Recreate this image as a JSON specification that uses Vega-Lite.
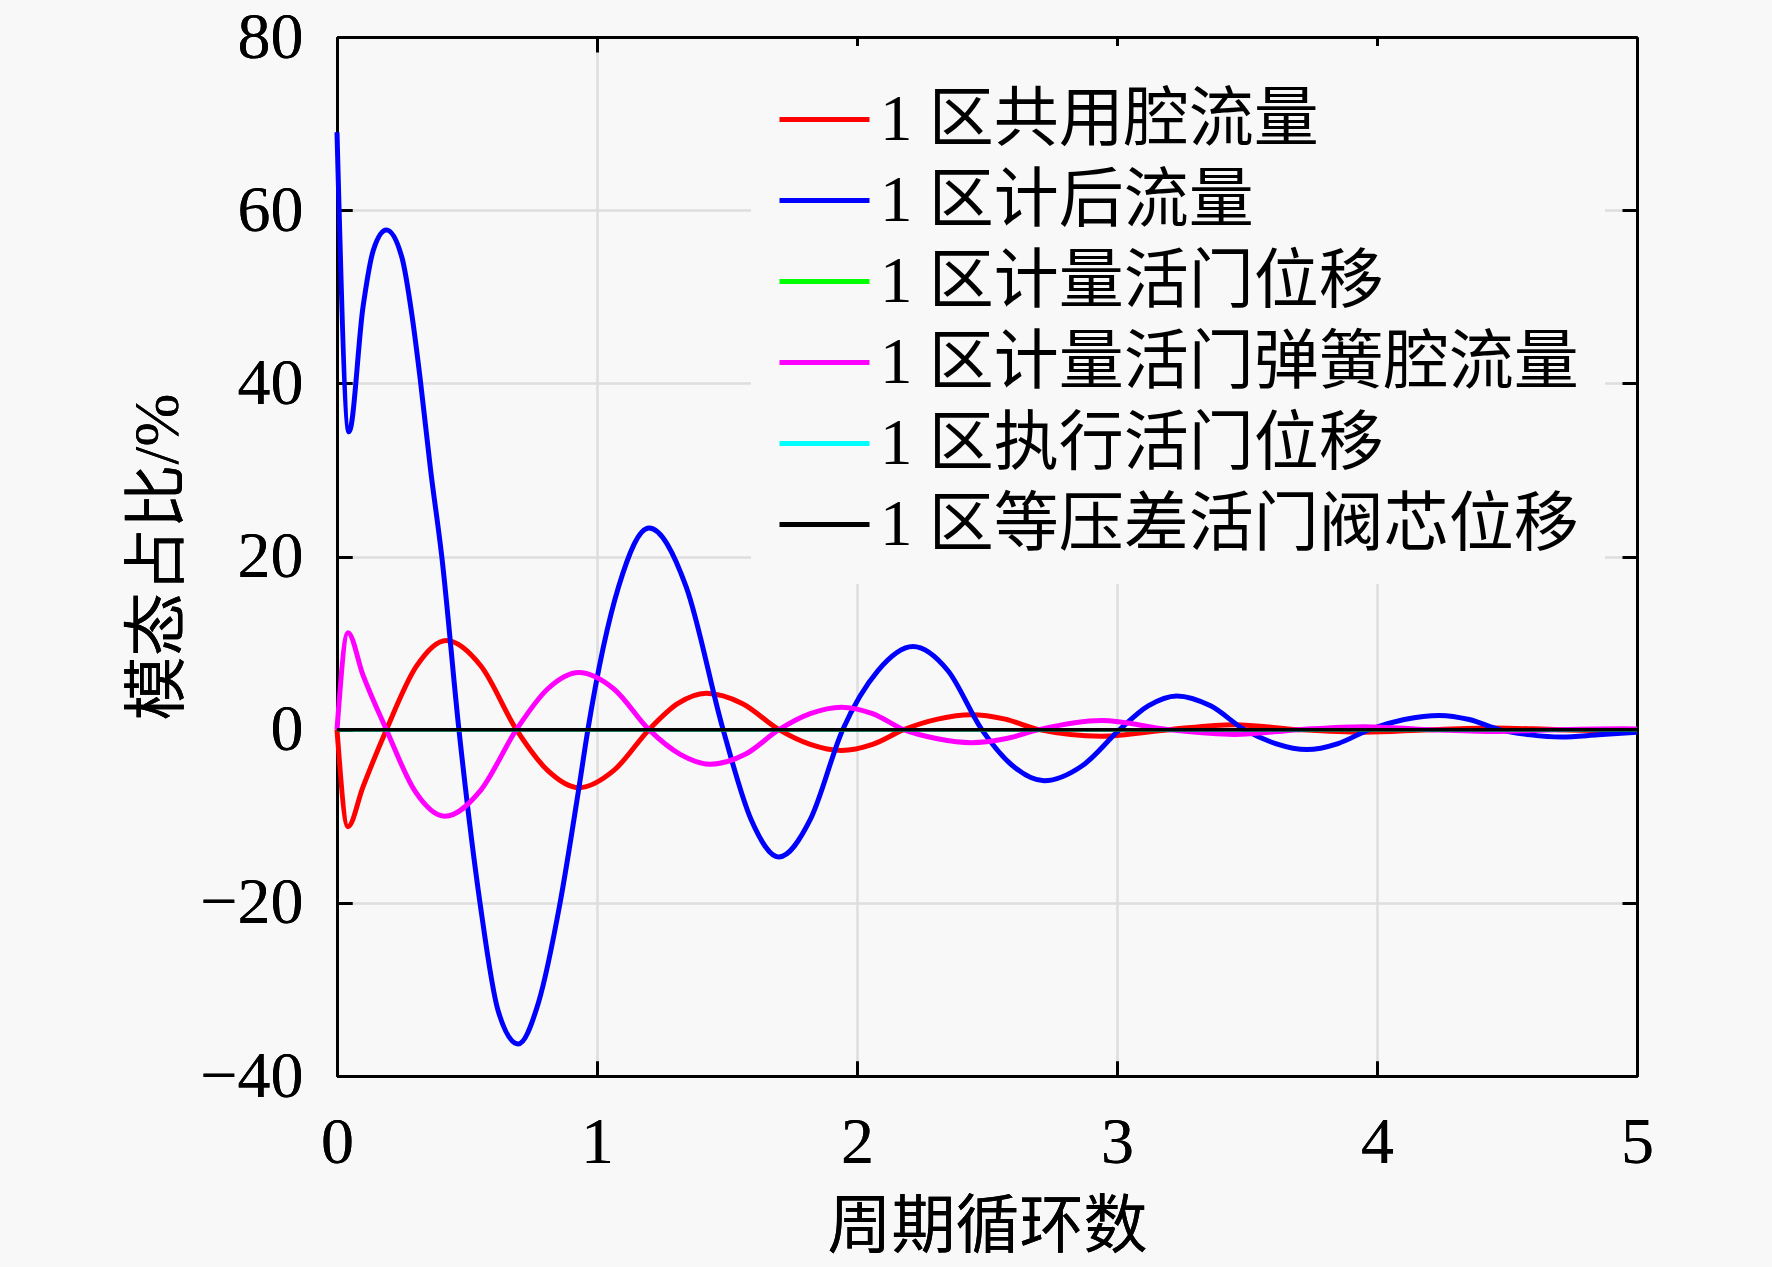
{
  "$schema": "https://vega.github.io/schema/vega-lite/v6.json",
  "width": 1300,
  "height": 1039,
  "autosize": {"type": "none"},
  "padding": {"left": 337, "top": 37, "right": 135, "bottom": 191},
  "background": "#f8f8f8",
  "config": {
    "view": {"stroke": null},
    "axis": {
      "domainColor": "#000000",
      "domainWidth": 3,
      "tickColor": "#000000",
      "tickWidth": 3,
      "tickSize": -15,
      "labelFont": "Liberation Serif",
      "labelFontSize": 66,
      "labelColor": "#000000",
      "labelFlush": false,
      "labelOverlap": false,
      "titleFont": "Liberation Serif, Noto Sans CJK SC",
      "titleFontSize": 64,
      "titleFontWeight": "normal",
      "titleColor": "#000000",
      "gridColor": "#dedede",
      "gridWidth": 2
    }
  },
  "data": {
    "values": [
      {"s": "1 区共用腔流量", "t": 0, "v": 0},
      {"s": "1 区共用腔流量", "t": 0.042, "v": -11.2},
      {"s": "1 区共用腔流量", "t": 0.1, "v": -6.6},
      {"s": "1 区共用腔流量", "t": 0.19, "v": 0},
      {"s": "1 区共用腔流量", "t": 0.305, "v": 7.3},
      {"s": "1 区共用腔流量", "t": 0.42, "v": 10.3},
      {"s": "1 区共用腔流量", "t": 0.555, "v": 7.3},
      {"s": "1 区共用腔流量", "t": 0.69, "v": 0},
      {"s": "1 区共用腔流量", "t": 0.81, "v": -4.7},
      {"s": "1 区共用腔流量", "t": 0.93, "v": -6.7},
      {"s": "1 区共用腔流量", "t": 1.065, "v": -4.7},
      {"s": "1 区共用腔流量", "t": 1.2, "v": 0},
      {"s": "1 区共用腔流量", "t": 1.31, "v": 3.0},
      {"s": "1 区共用腔流量", "t": 1.42, "v": 4.2},
      {"s": "1 区共用腔流量", "t": 1.56, "v": 3.0},
      {"s": "1 区共用腔流量", "t": 1.7, "v": 0},
      {"s": "1 区共用腔流量", "t": 1.82, "v": -1.7},
      {"s": "1 区共用腔流量", "t": 1.94, "v": -2.4},
      {"s": "1 区共用腔流量", "t": 2.06, "v": -1.7},
      {"s": "1 区共用腔流量", "t": 2.18, "v": 0},
      {"s": "1 区共用腔流量", "t": 2.31, "v": 1.22},
      {"s": "1 区共用腔流量", "t": 2.44, "v": 1.73},
      {"s": "1 区共用腔流量", "t": 2.57, "v": 1.22},
      {"s": "1 区共用腔流量", "t": 2.7, "v": 0},
      {"s": "1 区共用腔流量", "t": 2.94, "v": -0.75},
      {"s": "1 区共用腔流量", "t": 3.2, "v": 0},
      {"s": "1 区共用腔流量", "t": 3.45, "v": 0.58},
      {"s": "1 区共用腔流量", "t": 3.7, "v": 0},
      {"s": "1 区共用腔流量", "t": 3.95, "v": -0.3},
      {"s": "1 区共用腔流量", "t": 4.2, "v": 0},
      {"s": "1 区共用腔流量", "t": 4.45, "v": 0.2},
      {"s": "1 区共用腔流量", "t": 4.7, "v": 0},
      {"s": "1 区共用腔流量", "t": 4.95, "v": -0.1},
      {"s": "1 区共用腔流量", "t": 5, "v": -0.08},

      {"s": "1 区计后流量", "t": 0, "v": 69},
      {"s": "1 区计后流量", "t": 0.046, "v": 34.4},
      {"s": "1 区计后流量", "t": 0.1, "v": 48.8},
      {"s": "1 区计后流量", "t": 0.14, "v": 55.4},
      {"s": "1 区计后流量", "t": 0.19, "v": 57.7},
      {"s": "1 区计后流量", "t": 0.25, "v": 54.5},
      {"s": "1 区计后流量", "t": 0.29, "v": 47.5},
      {"s": "1 区计后流量", "t": 0.32, "v": 40.5},
      {"s": "1 区计后流量", "t": 0.36, "v": 30},
      {"s": "1 区计后流量", "t": 0.403, "v": 20},
      {"s": "1 区计后流量", "t": 0.469, "v": 0},
      {"s": "1 区计后流量", "t": 0.55, "v": -20},
      {"s": "1 区计后流量", "t": 0.62, "v": -32.5},
      {"s": "1 区计后流量", "t": 0.697, "v": -36.3},
      {"s": "1 区计后流量", "t": 0.775, "v": -31.5},
      {"s": "1 区计后流量", "t": 0.858, "v": -20},
      {"s": "1 区计后流量", "t": 0.93, "v": -6.8},
      {"s": "1 区计后流量", "t": 0.965, "v": 0},
      {"s": "1 区计后流量", "t": 1.083, "v": 16.5},
      {"s": "1 区计后流量", "t": 1.2, "v": 23.3},
      {"s": "1 区计后流量", "t": 1.343, "v": 16.5},
      {"s": "1 区计后流量", "t": 1.485, "v": 0},
      {"s": "1 区计后流量", "t": 1.593, "v": -10.4},
      {"s": "1 区计后流量", "t": 1.7, "v": -14.7},
      {"s": "1 区计后流量", "t": 1.82, "v": -10.4},
      {"s": "1 区计后流量", "t": 1.945, "v": 0},
      {"s": "1 区计后流量", "t": 2.08, "v": 6.8},
      {"s": "1 区计后流量", "t": 2.215, "v": 9.6},
      {"s": "1 区计后流量", "t": 2.35, "v": 6.8},
      {"s": "1 区计后流量", "t": 2.48, "v": 0},
      {"s": "1 区计后流量", "t": 2.6, "v": -4.2},
      {"s": "1 区计后流量", "t": 2.72, "v": -5.9},
      {"s": "1 区计后流量", "t": 2.865, "v": -4.2},
      {"s": "1 区计后流量", "t": 3.01, "v": 0},
      {"s": "1 区计后流量", "t": 3.12, "v": 2.75},
      {"s": "1 区计后流量", "t": 3.23, "v": 3.9},
      {"s": "1 区计后流量", "t": 3.36, "v": 2.75},
      {"s": "1 区计后流量", "t": 3.49, "v": 0},
      {"s": "1 区计后流量", "t": 3.61, "v": -1.6},
      {"s": "1 区计后流量", "t": 3.73, "v": -2.3},
      {"s": "1 区计后流量", "t": 3.85, "v": -1.6},
      {"s": "1 区计后流量", "t": 3.97, "v": 0},
      {"s": "1 区计后流量", "t": 4.105, "v": 1.17},
      {"s": "1 区计后流量", "t": 4.24, "v": 1.65},
      {"s": "1 区计后流量", "t": 4.355, "v": 1.17},
      {"s": "1 区计后流量", "t": 4.47, "v": 0},
      {"s": "1 区计后流量", "t": 4.59, "v": -0.6},
      {"s": "1 区计后流量", "t": 4.71, "v": -0.85},
      {"s": "1 区计后流量", "t": 4.85, "v": -0.6},
      {"s": "1 区计后流量", "t": 5, "v": -0.3},

      {"s": "1 区计量活门位移", "t": 0, "v": 0},
      {"s": "1 区计量活门位移", "t": 5, "v": 0},

      {"s": "1 区计量活门弹簧腔流量", "t": 0, "v": 0},
      {"s": "1 区计量活门弹簧腔流量", "t": 0.042, "v": 11.2},
      {"s": "1 区计量活门弹簧腔流量", "t": 0.1, "v": 6.3},
      {"s": "1 区计量活门弹簧腔流量", "t": 0.19, "v": 0},
      {"s": "1 区计量活门弹簧腔流量", "t": 0.3, "v": -7.1},
      {"s": "1 区计量活门弹簧腔流量", "t": 0.415, "v": -10.0},
      {"s": "1 区计量活门弹簧腔流量", "t": 0.55, "v": -7.1},
      {"s": "1 区计量活门弹簧腔流量", "t": 0.69, "v": 0},
      {"s": "1 区计量活门弹簧腔流量", "t": 0.81, "v": 4.7},
      {"s": "1 区计量活门弹簧腔流量", "t": 0.93, "v": 6.6},
      {"s": "1 区计量活门弹簧腔流量", "t": 1.065, "v": 4.7},
      {"s": "1 区计量活门弹簧腔流量", "t": 1.2, "v": 0},
      {"s": "1 区计量活门弹簧腔流量", "t": 1.32, "v": -2.85},
      {"s": "1 区计量活门弹簧腔流量", "t": 1.435, "v": -4.0},
      {"s": "1 区计量活门弹簧腔流量", "t": 1.57, "v": -2.85},
      {"s": "1 区计量活门弹簧腔流量", "t": 1.7, "v": 0},
      {"s": "1 区计量活门弹簧腔流量", "t": 1.82, "v": 1.85},
      {"s": "1 区计量活门弹簧腔流量", "t": 1.94, "v": 2.6},
      {"s": "1 区计量活门弹簧腔流量", "t": 2.06, "v": 1.85},
      {"s": "1 区计量活门弹簧腔流量", "t": 2.18, "v": 0},
      {"s": "1 区计量活门弹簧腔流量", "t": 2.31, "v": -1.05},
      {"s": "1 区计量活门弹簧腔流量", "t": 2.44, "v": -1.5},
      {"s": "1 区计量活门弹簧腔流量", "t": 2.57, "v": -1.05},
      {"s": "1 区计量活门弹簧腔流量", "t": 2.7, "v": 0},
      {"s": "1 区计量活门弹簧腔流量", "t": 2.94, "v": 1.05},
      {"s": "1 区计量活门弹簧腔流量", "t": 3.2, "v": 0},
      {"s": "1 区计量活门弹簧腔流量", "t": 3.45, "v": -0.55},
      {"s": "1 区计量活门弹簧腔流量", "t": 3.7, "v": 0},
      {"s": "1 区计量活门弹簧腔流量", "t": 3.95, "v": 0.35},
      {"s": "1 区计量活门弹簧腔流量", "t": 4.2, "v": 0},
      {"s": "1 区计量活门弹簧腔流量", "t": 4.45, "v": -0.2},
      {"s": "1 区计量活门弹簧腔流量", "t": 4.7, "v": 0},
      {"s": "1 区计量活门弹簧腔流量", "t": 4.95, "v": 0.1},
      {"s": "1 区计量活门弹簧腔流量", "t": 5, "v": 0.08},

      {"s": "1 区执行活门位移", "t": 0, "v": 0},
      {"s": "1 区执行活门位移", "t": 5, "v": 0},

      {"s": "1 区等压差活门阀芯位移", "t": 0, "v": 0},
      {"s": "1 区等压差活门阀芯位移", "t": 5, "v": 0}
    ]
  },
  "encoding": {
    "x": {
      "field": "t",
      "type": "quantitative",
      "scale": {"domain": [0, 5], "nice": false, "zero": false},
      "axis": {
        "orient": "bottom",
        "values": [0, 1, 2, 3, 4, 5],
        "grid": true,
        "labelPadding": 49,
        "title": "周期循环数",
        "titlePadding": 20
      }
    },
    "y": {
      "field": "v",
      "type": "quantitative",
      "scale": {"domain": [-40, 80], "nice": false, "zero": false},
      "axis": {
        "orient": "left",
        "values": [-40, -20, 0, 20, 40, 60, 80],
        "grid": true,
        "labelPadding": 49,
        "title": "模态占比/%",
        "titlePadding": 9
      }
    },
    "color": {
      "field": "s",
      "type": "nominal",
      "scale": {
        "domain": ["1 区共用腔流量", "1 区计后流量", "1 区计量活门位移", "1 区计量活门弹簧腔流量", "1 区执行活门位移", "1 区等压差活门阀芯位移"],
        "range": ["#ff0000", "#0000ff", "#00ff00", "#ff00ff", "#00ffff", "#000000"]
      },
      "legend": {
        "orient": "none",
        "legendX": 414,
        "legendY": 9,
        "title": null,
        "fillColor": "#f8f8f8",
        "padding": 26,
        "symbolType": "stroke",
        "symbolSize": 8100,
        "symbolStrokeWidth": 5,
        "rowPadding": -10,
        "labelOffset": 8,
        "labelFont": "Liberation Serif, Noto Sans CJK SC",
        "labelFontSize": 65,
        "labelColor": "#000000",
        "labelLimit": 1200
      }
    }
  },
  "layer": [
    {
      "transform": [{"filter": "datum.s === '1 区共用腔流量' || datum.s === '1 区计后流量' || datum.s === '1 区计量活门弹簧腔流量'"}],
      "mark": {"type": "line", "interpolate": "monotone", "strokeWidth": 5}
    },
    {
      "transform": [{"filter": "datum.s === '1 区计量活门位移' || datum.s === '1 区执行活门位移' || datum.s === '1 区等压差活门阀芯位移'"}],
      "mark": {"type": "line", "strokeWidth": 3.5}
    },
    {
      "mark": {"type": "line", "strokeOpacity": 0},
      "encoding": {
        "x": {
          "field": "t",
          "type": "quantitative",
          "axis": {"orient": "top", "values": [0, 1, 2, 3, 4, 5], "labels": false, "grid": false, "title": null}
        },
        "y": {
          "field": "v",
          "type": "quantitative",
          "axis": {"orient": "right", "values": [-40, -20, 0, 20, 40, 60, 80], "labels": false, "grid": false, "title": null}
        },
        "color": {"value": "#000000"},
        "detail": {"field": "s"}
      }
    }
  ],
  "resolve": {"axis": {"x": "independent", "y": "independent"}}
}
